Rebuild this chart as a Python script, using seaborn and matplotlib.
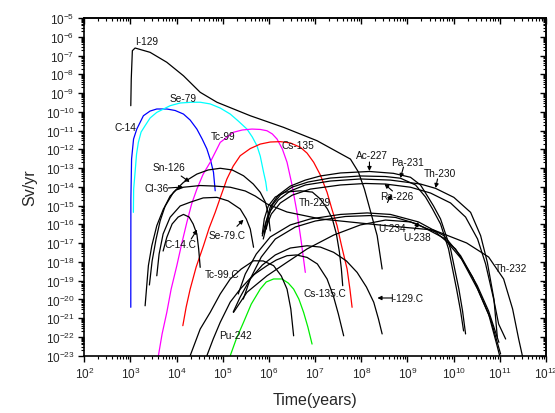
import numpy as np
import pandas as pd
import matplotlib
matplotlib.use("Agg")
import matplotlib.pyplot as plt
import seaborn as sns
from matplotlib.ticker import LogLocator, FuncFormatter, NullFormatter

sns.set_theme(style="white")
plt.rcParams['font.family'] = ['Liberation Sans', 'DejaVu Sans']
plt.rcParams['mathtext.fontset'] = 'custom'
plt.rcParams['mathtext.rm'] = 'Liberation Sans'
plt.rcParams['mathtext.it'] = 'Liberation Sans:italic'

# ---- data: log10(time, years) and log10(dose, Sv/yr) ----
i129_lt = [3.007, 3.017, 3.041, 3.10, 3.425, 3.787, 4.148, 4.51, 4.872, 5.595, 6.317, 7.04, 7.764, 7.937, 8.067, 8.197, 8.343, 8.451]
i129_ld = [-9.675, -8.25, -6.743, -6.60, -6.83, -7.36, -8.08, -8.96, -9.49, -10.21, -10.83, -11.54, -12.52, -13.21, -14.12, -15.29, -16.60, -18.38]

c14_lt = [3.007, 3.009, 3.024, 3.067, 3.137, 3.28, 3.425, 3.57, 3.787, 3.967, 4.148, 4.293, 4.438, 4.553, 4.655, 4.738, 4.798, 4.835]
c14_ld = [-20.42, -14.65, -12.52, -11.45, -10.92, -10.21, -9.96, -9.85, -9.85, -9.93, -10.12, -10.44, -10.92, -11.45, -11.98, -12.62, -13.22, -14.21]

se79_lt = [3.063, 3.069, 3.10, 3.132, 3.171, 3.23, 3.317, 3.425, 3.57, 3.859, 4.076, 4.33, 4.51, 4.727, 4.944, 5.161, 5.334, 5.523, 5.638, 5.74, 5.811, 5.883, 5.93, 5.957]
se79_ld = [-15.36, -14.12, -13.22, -12.25, -11.63, -11.08, -10.74, -10.33, -10.03, -9.675, -9.53, -9.49, -9.49, -9.58, -9.80, -10.12, -10.49, -10.92, -11.34, -11.81, -12.36, -13.22, -13.74, -14.21]

tc99_lt = [3.605, 3.685, 3.787, 3.881, 4.004, 4.108, 4.221, 4.325, 4.438, 4.575, 4.727, 4.944, 5.232, 5.421, 5.631, 5.811, 5.957, 6.072, 6.174, 6.289, 6.391, 6.495, 6.607, 6.70, 6.787]
tc99_ld = [-23.0, -21.84, -20.69, -19.45, -18.20, -17.05, -15.89, -14.91, -14.12, -13.32, -12.69, -11.63, -11.09, -10.97, -10.92, -10.94, -11.01, -11.18, -11.45, -11.98, -12.69, -13.85, -15.36, -16.94, -18.56]

cs135_lt = [4.134, 4.206, 4.293, 4.423, 4.581, 4.705, 4.835, 4.965, 5.089, 5.226, 5.377, 5.594, 5.811, 6.028, 6.245, 6.462, 6.679, 6.824, 6.968, 7.113, 7.258, 7.362, 7.475, 7.568, 7.692, 7.753, 7.80]
cs135_ld = [-21.40, -20.41, -19.45, -18.27, -17.14, -16.19, -15.36, -14.44, -13.58, -12.89, -12.34, -11.96, -11.72, -11.61, -11.59, -11.66, -11.89, -12.20, -12.69, -13.37, -14.29, -15.18, -16.07, -17.10, -18.38, -19.45, -20.42]

pu242_lt = [5.161, 5.291, 5.449, 5.616, 5.811, 5.941, 6.10, 6.282, 6.419, 6.534, 6.647, 6.75, 6.842, 6.933]
pu242_ld = [-23.0, -22.11, -21.22, -20.25, -19.45, -19.07, -18.91, -18.91, -19.13, -19.45, -19.98, -20.69, -21.47, -22.38]

sn126_lt = [3.317, 3.388, 3.462, 3.57, 3.714, 3.931, 4.148, 4.438, 4.683, 4.944, 5.204, 5.449, 5.66, 5.811, 5.92, 5.985, 6.028]
sn126_ld = [-20.34, -18.20, -17.14, -16.07, -15.18, -14.29, -13.76, -13.32, -13.10, -13.01, -13.10, -13.41, -13.85, -14.29, -14.81, -15.45, -16.35]

cl36_lt = [3.41, 3.469, 3.555, 3.642, 3.751, 3.859, 3.989, 4.148, 4.51, 4.835, 5.161, 5.486, 5.703, 5.957, 6.39, 7.113, 7.98, 8.631, 9.564, 10.28, 10.757, 11.082, 11.277, 11.408, 11.488]
cl36_ld = [-19.23, -17.95, -16.78, -15.82, -15.02, -14.49, -14.17, -14.02, -13.93, -13.96, -14.02, -14.22, -14.49, -14.91, -15.34, -15.71, -15.93, -16.09, -16.30, -16.99, -17.74, -18.91, -20.51, -22.11, -23.0]

c14c_lt = [3.707, 3.787, 3.902, 4.033, 4.148, 4.271, 4.358, 4.438, 4.477, 4.51]
c14c_ld = [-17.42, -16.69, -15.98, -15.61, -15.47, -15.61, -15.98, -16.51, -17.31, -18.29]

se79c_lt = [3.57, 3.62, 3.707, 3.859, 4.076, 4.293, 4.575, 4.872, 5.117, 5.377, 5.508, 5.595, 5.666]
se79c_ld = [-18.74, -17.58, -16.51, -15.62, -15.02, -14.82, -14.59, -14.56, -14.75, -15.18, -15.71, -16.25, -17.22]

tc99c_lt = [4.293, 4.51, 4.727, 4.944, 5.161, 5.399, 5.666, 5.876, 6.10, 6.267, 6.391, 6.473, 6.534]
tc99c_ld = [-23.0, -21.58, -20.69, -19.71, -18.91, -18.38, -17.94, -17.95, -18.20, -18.75, -19.45, -20.51, -21.94]

cs135c_lt = [4.655, 4.792, 4.944, 5.161, 5.377, 5.66, 5.957, 6.158, 6.39, 6.592, 6.824, 7.048, 7.258, 7.395, 7.503, 7.618]
cs135c_ld = [-23.0, -22.11, -21.22, -20.14, -19.45, -18.70, -18.20, -17.90, -17.67, -17.63, -17.76, -18.11, -18.91, -19.82, -20.78, -21.94]

i129c_lt = [5.226, 5.377, 5.594, 5.855, 6.137, 6.462, 6.824, 7.113, 7.401, 7.677, 7.909, 8.111, 8.269, 8.371, 8.451]
i129c_ld = [-20.67, -19.87, -18.91, -18.17, -17.63, -17.26, -17.14, -17.21, -17.49, -17.95, -18.56, -19.34, -20.15, -21.04, -21.84]

th229_lt = [5.855, 5.898, 5.985, 6.137, 6.354, 6.679, 6.94, 7.113, 7.265, 7.373, 7.46, 7.525, 7.568, 7.597]
th229_ld = [-16.51, -15.71, -15.02, -14.54, -14.28, -14.21, -14.28, -14.65, -15.18, -15.71, -16.51, -17.47, -18.38, -19.27]

ac227_lt = [5.898, 5.941, 6.028, 6.202, 6.462, 6.787, 7.113, 7.547, 8.176, 8.696, 9.065, 9.282, 9.427, 9.564, 9.716, 9.933, 10.113, 10.193, 10.258]
ac227_ld = [-16.51, -15.82, -15.07, -14.44, -13.96, -13.64, -13.42, -13.26, -13.18, -13.28, -13.49, -13.90, -14.47, -15.02, -15.71, -17.31, -19.45, -20.62, -21.84]

pa231_lt = [5.941, 5.985, 6.072, 6.245, 6.505, 6.852, 7.33, 7.98, 8.523, 8.848, 9.174, 9.39, 9.542, 9.716, 9.889, 10.063, 10.15, 10.215]
pa231_ld = [-16.25, -15.61, -14.97, -14.44, -14.01, -13.74, -13.53, -13.42, -13.45, -13.54, -13.90, -14.54, -15.18, -15.98, -17.31, -19.45, -20.62, -21.68]

th230_lt = [5.855, 5.92, 6.028, 6.202, 6.462, 6.787, 7.33, 7.98, 8.631, 9.282, 9.607, 10.004, 10.367, 10.584, 10.729, 10.872, 10.946]
th230_ld = [-16.62, -15.98, -15.29, -14.70, -14.22, -13.90, -13.69, -13.58, -13.64, -13.85, -14.08, -14.56, -15.36, -16.60, -18.02, -19.98, -22.02]

ra226_lt = [5.876, 5.941, 6.05, 6.245, 6.505, 6.896, 7.547, 8.089, 8.523, 9.065, 9.499, 9.933, 10.258, 10.518, 10.692, 10.866, 10.974, 11.126]
ra226_ld = [-16.78, -16.14, -15.45, -14.86, -14.44, -14.12, -13.90, -13.82, -13.85, -14.02, -14.33, -14.86, -15.61, -16.78, -18.11, -19.98, -21.31, -22.11]

u234_lt = [5.334, 5.486, 5.725, 6.028, 6.462, 6.896, 7.547, 8.126, 8.631, 9.239, 9.787, 10.15, 10.512, 10.757, 10.98]
u234_ld = [-19.71, -18.65, -17.58, -16.67, -16.03, -15.71, -15.47, -15.39, -15.47, -15.87, -16.60, -17.67, -19.27, -20.62, -22.29]

u238_lt = [5.443, 5.594, 5.833, 6.137, 6.571, 7.004, 7.655, 8.197, 8.74, 9.21, 9.787, 10.171, 10.518, 10.80, 11.017]
u238_ld = [-19.98, -18.91, -17.74, -16.78, -16.14, -15.82, -15.58, -15.53, -15.63, -15.98, -16.73, -17.85, -19.45, -21.05, -22.91]

uchain_lt = [5.232, 5.523, 5.957, 6.39, 6.824, 7.401, 7.98, 8.523, 9.065, 9.607, 10.041, 10.41, 10.757, 10.931, 10.996]
uchain_ld = [-20.69, -19.62, -18.74, -18.02, -17.31, -16.57, -16.03, -15.77, -15.87, -16.41, -17.31, -18.81, -20.78, -22.38, -23.0]

series = {
    'I-129': (i129_lt, i129_ld), 'C-14': (c14_lt, c14_ld), 'Se-79': (se79_lt, se79_ld),
    'Tc-99': (tc99_lt, tc99_ld), 'Cs-135': (cs135_lt, cs135_ld), 'Pu-242': (pu242_lt, pu242_ld),
    'Sn-126': (sn126_lt, sn126_ld), 'Cl-36': (cl36_lt, cl36_ld), 'C-14.C': (c14c_lt, c14c_ld),
    'Se-79.C': (se79c_lt, se79c_ld), 'Tc-99.C': (tc99c_lt, tc99c_ld), 'Cs-135.C': (cs135c_lt, cs135c_ld),
    'I-129.C': (i129c_lt, i129c_ld), 'Th-229': (th229_lt, th229_ld), 'Ac-227': (ac227_lt, ac227_ld),
    'Pa-231': (pa231_lt, pa231_ld), 'Th-230': (th230_lt, th230_ld), 'Ra-226': (ra226_lt, ra226_ld),
    'U-234': (u234_lt, u234_ld), 'U-238': (u238_lt, u238_ld), 'U-chain': (uchain_lt, uchain_ld),
}
colors = {'C-14': '#0000ff', 'Se-79': '#00ffff', 'Tc-99': '#ff00ff', 'Cs-135': '#ff0000', 'Pu-242': '#00ee00'}

rows = []
for name, (lt, ld) in series.items():
    for i, (a, b) in enumerate(zip(lt, ld)):
        rows.append({'nuclide': name, 'order': i, 'time': 10.0 ** a, 'dose': 10.0 ** b})
df = pd.DataFrame(rows)
palette = {n: colors.get(n, '#000000') for n in series}

fig = plt.figure(figsize=(5.55, 4.14), dpi=100)
ax = fig.add_axes([84.3 / 555, 1 - 356.7 / 414, (546 - 84.3) / 555, (356.7 - 19) / 414])
ax.set_xscale('log')
ax.set_yscale('log')
sns.lineplot(data=df, x='time', y='dose', hue='nuclide', palette=palette, estimator=None,
             sort=False, legend=False, linewidth=0.9, ax=ax)
ax.set_xlim(1e2, 1e12)
ax.set_ylim(1e-23, 1e-5)

fmt = FuncFormatter(lambda v, p: r'$\mathregular{10^{%d}}$' % int(round(np.log10(v))))
for axis in (ax.xaxis, ax.yaxis):
    axis.set_major_locator(LogLocator(base=10, numticks=30))
    axis.set_minor_locator(LogLocator(base=10, subs=np.arange(2, 10), numticks=300))
    axis.set_major_formatter(fmt)
    axis.set_minor_formatter(NullFormatter())
ax.tick_params(which='major', direction='out', length=4, width=1, labelsize=8.5, color='black', pad=3)
ax.tick_params(which='minor', direction='out', length=2, width=0.8, color='black')
ax.tick_params(bottom=True, left=True, which='both')
for s in ax.spines.values():
    s.set_color('black')
    s.set_linewidth(1.2)

secx = ax.secondary_xaxis('top')
secy = ax.secondary_yaxis('right')
for sa in (secx, secy):
    for axis in ((sa.xaxis,) if sa is secx else (sa.yaxis,)):
        axis.set_major_locator(LogLocator(base=10, numticks=30))
        axis.set_minor_locator(LogLocator(base=10, subs=np.arange(2, 10), numticks=300))
        axis.set_major_formatter(NullFormatter())
        axis.set_minor_formatter(NullFormatter())
    sa.tick_params(which='major', direction='in', length=4, width=1, color='black')
    sa.tick_params(which='minor', direction='in', length=2, width=0.8, color='black')

ax.set_xlabel('Time(years)', fontsize=11.5, labelpad=8)
ax.set_ylabel('Sv/yr', fontsize=11.5, labelpad=6)

labels = [
    ('I-129', 0.135, 0.931), ('Se-79', 0.215, 0.762), ('C-14', 0.090, 0.676),
    ('Tc-99', 0.3015, 0.650), ('Cs-135', 0.463, 0.625), ('Sn-126', 0.184, 0.558),
    ('Cl-36', 0.157, 0.496), ('C-14.C', 0.2076, 0.331), ('Se-79.C', 0.310, 0.357),
    ('Tc-99.C', 0.299, 0.242), ('Cs-135.C', 0.522, 0.186), ('I-129.C', 0.699, 0.170),
    ('Pu-242', 0.327, 0.061), ('Th-229', 0.500, 0.456), ('Ac-227', 0.623, 0.594),
    ('Pa-231', 0.699, 0.573), ('Th-230', 0.770, 0.541), ('Ra-226', 0.676, 0.472),
    ('U-234', 0.667, 0.377), ('U-238', 0.721, 0.351), ('Th-232', 0.923, 0.259),
]
for txt, fx, fy in labels:
    ax.text(fx, fy, txt, transform=ax.transAxes, ha='center', va='center', fontsize=7.3, color='#111111')

arrows = [
    ((0.2098, 0.532), (0.2282, 0.5144)), ((0.1816, 0.4967), (0.2141, 0.4996)),
    ((0.2315, 0.3455), (0.2445, 0.3731)), ((0.3306, 0.3832), (0.3449, 0.4027)),
    ((0.6675, 0.1709), (0.6349, 0.1709)), ((0.6176, 0.5736), (0.6176, 0.5469)),
    ((0.6913, 0.5588), (0.6848, 0.5262)), ((0.7651, 0.5233), (0.7608, 0.4966)),
    ((0.6675, 0.4877), (0.6501, 0.5085)), ((0.6566, 0.4537), (0.6653, 0.4774)),
    ((0.7152, 0.3723), (0.7239, 0.3960)),
]
for start, end in arrows:
    ax.annotate('', xy=end, xytext=start, xycoords='axes fraction', textcoords='axes fraction',
                arrowprops=dict(arrowstyle='-|>', color='black', lw=0.8, mutation_scale=6,
                                shrinkA=0, shrinkB=0))

fig.savefig('out.png', dpi=100)
